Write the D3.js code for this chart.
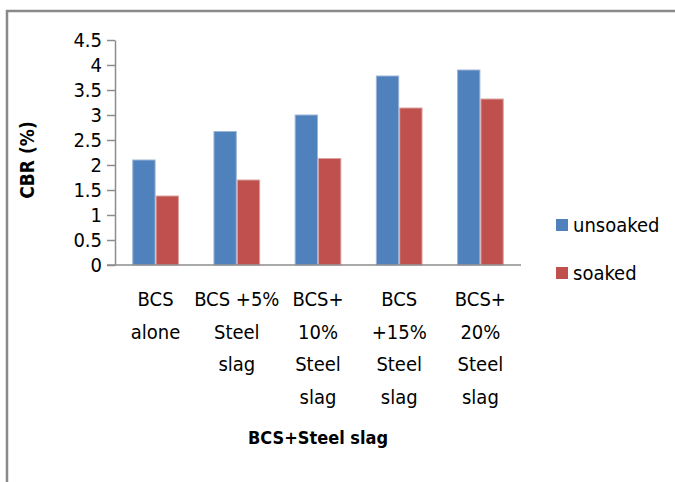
<!DOCTYPE html>
<html>
<head>
<meta charset="utf-8">
<script src="https://cdn.jsdelivr.net/npm/d3@7"></script>
<style>
  html, body { margin: 0; padding: 0; background: #fff; }
  svg text { font-family: "Liberation Sans Narrow", "DejaVu Sans Condensed", "Open Sans", sans-serif; fill: #000; }
</style>
</head>
<body>
<svg id="chart" width="675" height="482"></svg>
<script>
// CBR of black cotton soil with steel slag additions
const categories = ["BCS alone", "BCS +5% Steel slag", "BCS+ 10% Steel slag", "BCS +15% Steel slag", "BCS+ 20% Steel slag"];
const categoryLines = [
  ["BCS", "alone"],
  ["BCS +5%", "Steel", "slag"],
  ["BCS+", "10%", "Steel", "slag"],
  ["BCS", "+15%", "Steel", "slag"],
  ["BCS+", "20%", "Steel", "slag"]
];
const seriesNames = ["unsoaked", "soaked"];
const unsoaked = [2.11, 2.68, 3.01, 3.79, 3.91];
const soaked = [1.39, 1.71, 2.14, 3.15, 3.33];
const yTicks = [0, 0.5, 1, 1.5, 2, 2.5, 3, 3.5, 4, 4.5];
const colors = ["#4F81BD", "#C0504D"];
const edgeColors = ["#9db6d8", "#dba3a1"];

const svg = d3.select("#chart");

// outer chart frame (runs off the right and bottom edges)
svg.append("rect")
  .attr("x", 7).attr("y", 11)
  .attr("width", 700).attr("height", 500)
  .attr("fill", "none")
  .attr("stroke", "#898989")
  .attr("stroke-width", 2.5);

const plot = { left: 115, right: 521, top: 40, bottom: 265 };

const y = d3.scaleLinear().domain([0, 4.5]).range([plot.bottom, plot.top]);
const x0 = d3.scaleBand().domain(categories)
  .range([plot.left, plot.right])
  .paddingInner(0.425).paddingOuter(0.2125);
const x1 = d3.scaleBand().domain(seriesNames).range([0, x0.bandwidth()]);

const values = { unsoaked, soaked };

// bars
const groups = svg.append("g").selectAll("g")
  .data(categories)
  .join("g")
  .attr("transform", d => `translate(${x0(d)},0)`);

groups.selectAll("rect")
  .data((d, i) => seriesNames.map((s, k) => ({ s, v: values[s][i], k })))
  .join("rect")
  .attr("x", d => x1(d.s) + 0.5)
  .attr("width", x1.bandwidth() - 1)
  .attr("y", d => y(d.v) + 0.5)
  .attr("height", d => y(0) - y(d.v) - 0.5)
  .attr("fill", d => colors[d.k])
  .attr("stroke", d => edgeColors[d.k])
  .attr("stroke-width", 1);

// y axis
const yAxis = svg.append("g")
  .attr("transform", `translate(${plot.left},0)`)
  .call(d3.axisLeft(y).tickValues(yTicks).tickSize(8).tickSizeOuter(0).tickPadding(5)
    .tickFormat(d3.format("")));
yAxis.selectAll("path, line").attr("stroke", "#8c8c8c").attr("stroke-width", 1.5);
yAxis.selectAll("text").style("font-size", "20px").attr("fill", "#000");

// x axis baseline
svg.append("line")
  .attr("x1", plot.left - 8).attr("x2", plot.right)
  .attr("y1", y(0)).attr("y2", y(0))
  .attr("stroke", "#8c8c8c").attr("stroke-width", 1.5);

// category labels, one tspan per line
const lab = svg.append("g").selectAll("text")
  .data(categories)
  .join("text")
  .attr("text-anchor", "middle")
  .style("font-size", "20px")
  .attr("x", d => x0(d) + x0.bandwidth() / 2)
  .attr("y", 306);
lab.each(function (d, i) {
  d3.select(this).selectAll("tspan")
    .data(categoryLines[i])
    .join("tspan")
    .attr("x", x0(d) + x0.bandwidth() / 2)
    .attr("dy", (t, j) => j === 0 ? 0 : 32.5)
    .text(t => t);
});

// axis titles
svg.append("text")
  .attr("text-anchor", "middle")
  .attr("x", 318).attr("y", 444)
  .style("font-size", "18px").style("font-weight", "bold")
  .text("BCS+Steel slag");

svg.append("text")
  .attr("text-anchor", "middle")
  .attr("transform", `translate(34,160) rotate(-90)`)
  .style("font-size", "19px").style("font-weight", "bold")
  .text("CBR (%)");

// legend
const legend = svg.append("g").selectAll("g")
  .data(seriesNames)
  .join("g")
  .attr("transform", (d, i) => `translate(556,${219 + i * 48})`);
legend.append("rect")
  .attr("width", 12).attr("height", 12)
  .attr("fill", (d, i) => colors[i]);
legend.append("text")
  .attr("x", 17).attr("y", 13)
  .style("font-size", "20px")
  .text(d => d);
</script>
</body>
</html>
